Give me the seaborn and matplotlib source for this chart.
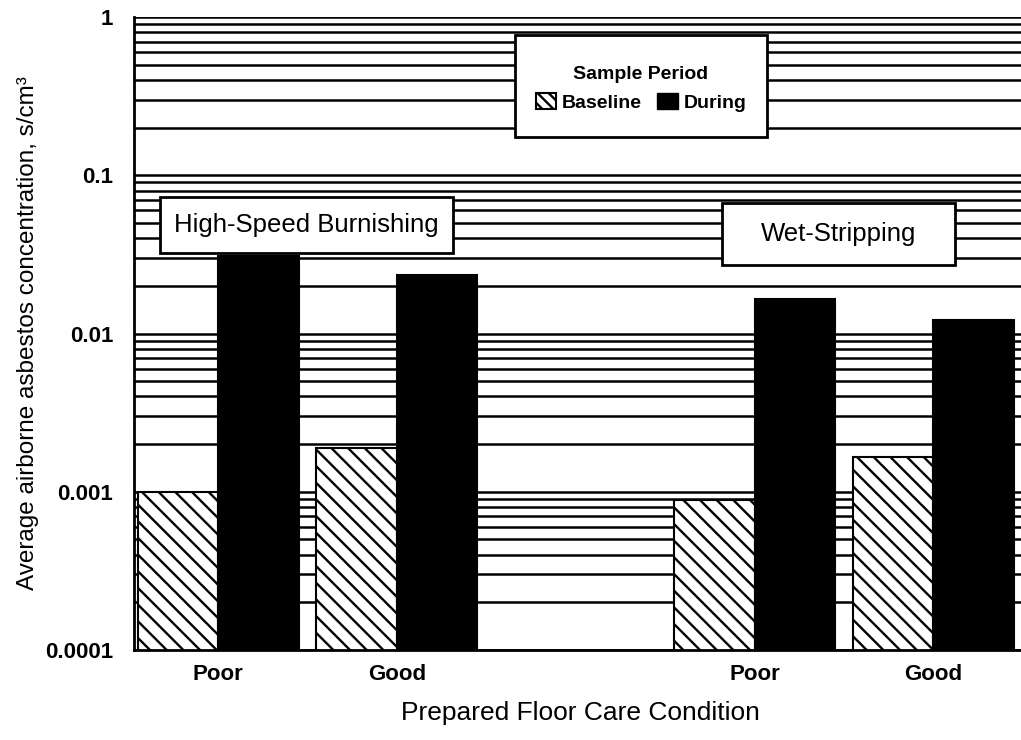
import matplotlib
matplotlib.use("Agg")
import matplotlib.pyplot as plt
import matplotlib.patches as mpatches
from matplotlib.ticker import LogLocator, FixedLocator, NullFormatter
import pandas as pd
import seaborn as sns

# Data
slots = ["HSB-Poor", "HSB-Good", "gap", "WS-Poor", "WS-Good"]
slot_labels = ["Poor", "Good", "", "Poor", "Good"]
conditions = ["HSB-Poor", "HSB-Good", "WS-Poor", "WS-Good"]
baseline = [0.0010, 0.0019, 0.00089, 0.00165]
during = [0.031, 0.0233, 0.0166, 0.0121]
periods = ["Baseline", "During"]
y_ticks = [0.0001, 0.001, 0.01, 0.1, 1]
y_ticklabels = ["0.0001", "0.001", "0.01", "0.1", "1"]

df = pd.DataFrame({
    "condition": conditions * 2,
    "period": ["Baseline"] * 4 + ["During"] * 4,
    "value": baseline + during,
})

sns.set_style("white")
plt.rcParams["font.family"] = ["Liberation Sans", "DejaVu Sans"]
plt.rcParams["hatch.linewidth"] = 1.7
for key in ["text.color", "axes.labelcolor", "xtick.color", "ytick.color"]:
    plt.rcParams[key] = "black"

W, H = 1021, 740
fig = plt.figure(figsize=(W / 100, H / 100), dpi=100)
ax = fig.add_axes([134 / W, 1 - 650 / H, 1 - 134 / W, (650 - 17) / H])

sns.barplot(data=df, x="condition", y="value", hue="period", order=slots,
            hue_order=periods, palette={"Baseline": "white", "During": "black"},
            width=0.9, edgecolor="black", linewidth=1.5, legend=False, ax=ax,
            log_scale=(False, True))

# hatch the baseline bars
for bar in ax.containers[0]:
    bar.set_hatch("\\\\")
    bar.set_edgecolor("black")

ax.set_yscale("log")
ax.set_ylim(1e-4, 1)
ax.set_xlim(-0.47, 4.49)
ax.yaxis.set_major_locator(FixedLocator(y_ticks))
ax.set_yticklabels(y_ticklabels)
ax.yaxis.set_minor_locator(LogLocator(base=10, subs=range(2, 10)))
ax.yaxis.set_minor_formatter(NullFormatter())
ax.yaxis.grid(True, which="both", color="black", linewidth=1.8)
ax.set_axisbelow(True)

ax.set_xticks(range(len(slots)))
ax.set_xticklabels(slot_labels)
ax.tick_params(axis="x", length=0, pad=10, labelsize=16)
ax.tick_params(axis="y", which="both", length=0, pad=15, labelsize=16)
for lab in ax.get_xticklabels() + ax.get_yticklabels():
    lab.set_fontweight("bold")

ax.set_xlabel("Prepared Floor Care Condition", fontsize=19)
ax.xaxis.set_label_coords(0.503, -0.08)
ax.set_ylabel("Average airborne asbestos concentration, s/cm³", fontsize=17.5, labelpad=4)

for side in ["top", "right"]:
    ax.spines[side].set_visible(False)
for side in ["left", "bottom"]:
    ax.spines[side].set_color("black")
    ax.spines[side].set_linewidth(2)


def box(x0, y0, x1, y1):
    rect = mpatches.Rectangle((x0 / W, 1 - y1 / H), (x1 - x0) / W, (y1 - y0) / H,
                              transform=fig.transFigure, facecolor="white",
                              edgecolor="black", linewidth=2)
    fig.add_artist(rect)
    return (x0 + x1) / 2 / W, 1 - (y0 + y1) / 2 / H


cx, cy = box(160, 197, 453, 253)
fig.text(cx, cy, "High-Speed Burnishing", ha="center", va="center", fontsize=18.5, color="black")
cx, cy = box(722, 203, 955, 265)
fig.text(cx, cy, "Wet-Stripping", ha="center", va="center", fontsize=18.5, color="black")

cx, cy = box(515, 35, 767, 137)
handles = [mpatches.Patch(facecolor="white", edgecolor="black", hatch="\\\\\\", linewidth=1.5),
           mpatches.Patch(facecolor="black", edgecolor="black")]
leg = fig.legend(handles=handles, labels=periods, title="Sample Period", ncol=2,
                 loc="center", bbox_to_anchor=(cx, cy - 0.004), frameon=False,
                 handlelength=1.05, handleheight=0.9, handletextpad=0.3,
                 columnspacing=0.8, prop={"weight": "bold", "size": 14},
                 title_fontproperties={"weight": "bold", "size": 14})
for t in leg.get_texts():
    t.set_color("black")
leg.get_title().set_color("black")

fig.savefig("out.png", dpi=100)
